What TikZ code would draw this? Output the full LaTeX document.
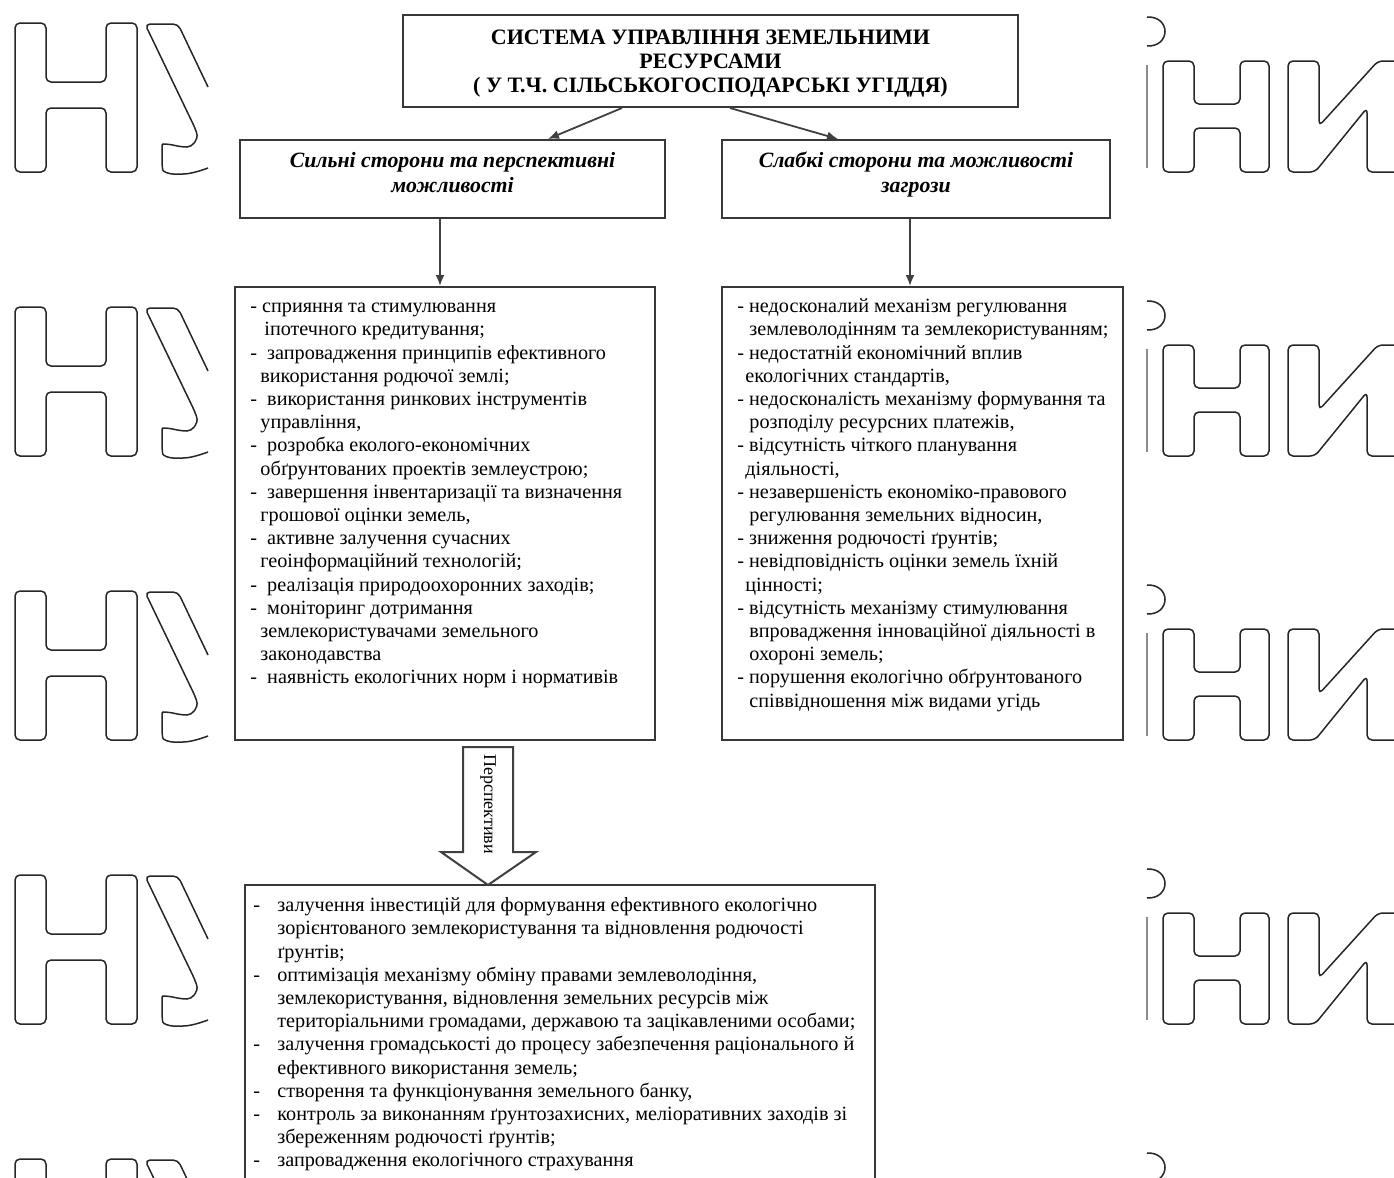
\documentclass[tikz,border=0pt]{standalone}
\usepackage{fontspec}
\setmainfont{Liberation Serif}
\usetikzlibrary{arrows.meta,calc}
\begin{document}
\begin{tikzpicture}[x=0.5pt,y=-0.5pt,
  box/.style={draw=black!78, line width=1pt, inner sep=0pt},
  wm/.style={draw=black!85, line width=0.75pt, rounded corners=2.5pt},
  conn/.style={draw=black!75, line width=0.9pt, -{Latex[length=5.5pt,width=4.5pt]}},
  body/.style={font=\fontsize{10.1}{11.6}\selectfont, align=left, anchor=north west, inner sep=0pt},
  headtext/.style={align=center, inner sep=0pt, font=\bfseries\fontsize{11}{12}\selectfont},
  subtext/.style={align=center, inner sep=0pt, font=\bfseries\itshape\fontsize{10.9}{12.5}\selectfont},
  ]
\useasboundingbox (0,0) rectangle (1394,1178);
\clip (0,0) rectangle (1394,1178);
% ---- watermarks
\foreach \dy in {0,284,568,852,1136} {
  \begin{scope}[shift={(0,\dy)}]
    % left  H
    \draw[wm] (15,23) -- (46,23) -- (46,82) -- (106,82) -- (106,23) -- (137,23) -- (137,172)
      -- (106,172) -- (106,108) -- (46,108) -- (46,172) -- (15,172) -- cycle;
    % left  U (cut)
    \draw[wm] (208,87) -- (178,24) -- (145,24) -- (195,128)
      .. controls (199,140) and (192,147) .. (182,147) -- (168,144)
      .. controls (163,144) and (162,146) .. (162,150) -- (162,165)
      .. controls (163,172) and (170,174) .. (178,174)
      .. controls (190,174) and (200,171) .. (208,168);
    % right side
    \draw[black!85, line width=0.75pt] (1147,17) .. controls (1171,16) and (1171,47) .. (1147,46);
    \draw[black!45, line width=0.6pt] (1147,65) -- (1147,168);
    \draw[wm] (1163,61) -- (1194,61) -- (1194,104) -- (1240,104) -- (1240,61) -- (1269,61) -- (1269,172)
      -- (1240,172) -- (1240,128) -- (1194,128) -- (1194,172) -- (1163,172) -- cycle;
    \draw[wm] (1396,61) -- (1378,61) -- (1319,126) -- (1319,61) -- (1288,61) -- (1288,172)
      -- (1315,172) -- (1367,108) -- (1367,172) -- (1396,172);
  \end{scope}
}
% ---- boxes
\node[box, minimum width=307.5pt, minimum height=46pt] (top) at (710.5,61) {};
\node[headtext] (toptext) at ($(top.center)+(0,3)$)
  {СИСТЕМА УПРАВЛІННЯ ЗЕМЕЛЬНИМИ\\РЕСУРСАМИ\\( У Т.Ч. СІЛЬСЬКОГОСПОДАРСЬКІ УГІДДЯ)};
\node[box, minimum width=212.5pt, minimum height=39pt] (ls) at (452.5,179) {};
\node[subtext] (lstext) at ($(ls.center)+(0,-4)$) {\strut Сильні сторони та перспективні\\\strut можливості};
\node[box, minimum width=194pt, minimum height=39pt] (rs) at (916,179) {};
\node[subtext] (rstext) at ($(rs.center)+(0,-4)$) {\strut Слабкі сторони та можливості\\\strut загрози};
\node[box, minimum width=210pt, minimum height=226.5pt] (lbox) at (445,513.5) {};
\node[box, minimum width=200.5pt, minimum height=226.5pt] (rbox) at (922.5,513.5) {};
\node[box, minimum width=315pt, minimum height=160pt] (bbox) at (560,1045) {};
% ---- connectors
\draw[conn] ($(top.south)+(-88.5,0)$) -- ($(ls.north)+(95.5,0)$);
\draw[conn] ($(top.south)+(19.5,0)$) -- ($(rs.north)+(-78,0)$);
\draw[conn] ($(ls.south)+(-12.5,0)$) -- ($(lbox.north)+(-5,0)$);
\draw[conn] ($(rs.south)+(-6,0)$) -- ($(rbox.north)+(-12.5,0)$);
% ---- hollow block arrow
\draw[draw=black!75, line width=1pt, fill=white, line join=miter]
  (463,747) -- (513,747) -- (513,852) -- (536,852) -- (488,885) -- (441,852) -- (463,852) -- cycle;
\node[rotate=-90, inner sep=0pt, font=\fontsize{9}{11}\selectfont] (persp) at (488,804) {Перспективи};
% ---- texts
\node[body] (ltext) at (250,296) {\strut- сприяння та стимулювання\\
\hspace*{7pt}іпотечного кредитування;\\
-\ \ запровадження принципів ефективного\\
\hspace*{5pt}використання родючої землі;\\
-\ \ використання ринкових інструментів\\
\hspace*{5pt}управління,\\
-\ \ розробка еколого-економічних\\
\hspace*{5pt}обґрунтованих проектів землеустрою;\\
-\ \ завершення інвентаризації та визначення\\
\hspace*{5pt}грошової оцінки земель,\\
-\ \ активне залучення сучасних\\
\hspace*{5pt}геоінформаційний технологій;\\
-\ \ реалізація природоохоронних заходів;\\
-\ \ моніторинг дотримання\\
\hspace*{5pt}землекористувачами земельного\\
\hspace*{5pt}законодавства\\
-\ \ наявність екологічних норм і нормативів};
\node[body] (rtext) at (737,296) {\strut- недосконалий механізм регулювання\\
\hspace*{6pt}землеволодінням та землекористуванням;\\
- недостатній економічний вплив\\
\hspace*{4pt}екологічних стандартів,\\
- недосконалість механізму формування та\\
\hspace*{6pt}розподілу ресурсних платежів,\\
- відсутність чіткого планування\\
\hspace*{4pt}діяльності,\\
- незавершеність економіко-правового\\
\hspace*{6pt}регулювання земельних відносин,\\
- зниження родючості ґрунтів;\\
- невідповідність оцінки земель їхній\\
\hspace*{4pt}цінності;\\
- відсутність механізму стимулювання\\
\hspace*{6pt}впровадження інноваційної діяльності в\\
\hspace*{6pt}охороні земель;\\
- порушення екологічно обґрунтованого\\
\hspace*{6pt}співвідношення між видами угідь};
\node[body] (btext) at (253,895) {\strut\makebox[12pt][l]{-}залучення інвестицій для формування ефективного екологічно\\
\hspace*{12pt}зорієнтованого землекористування та відновлення родючості\\
\hspace*{12pt}ґрунтів;\\
\makebox[12pt][l]{-}оптимізація механізму обміну правами землеволодіння,\\
\hspace*{12pt}землекористування, відновлення земельних ресурсів між\\
\hspace*{12pt}територіальними громадами, державою та зацікавленими особами;\\
\makebox[12pt][l]{-}залучення громадськості до процесу забезпечення раціонального й\\
\hspace*{12pt}ефективного використання земель;\\
\makebox[12pt][l]{-}створення та функціонування земельного банку,\\
\makebox[12pt][l]{-}контроль за виконанням ґрунтозахисних, меліоративних заходів зі\\
\hspace*{12pt}збереженням родючості ґрунтів;\\
\makebox[12pt][l]{-}запровадження екологічного страхування};
\end{tikzpicture}
\end{document}
